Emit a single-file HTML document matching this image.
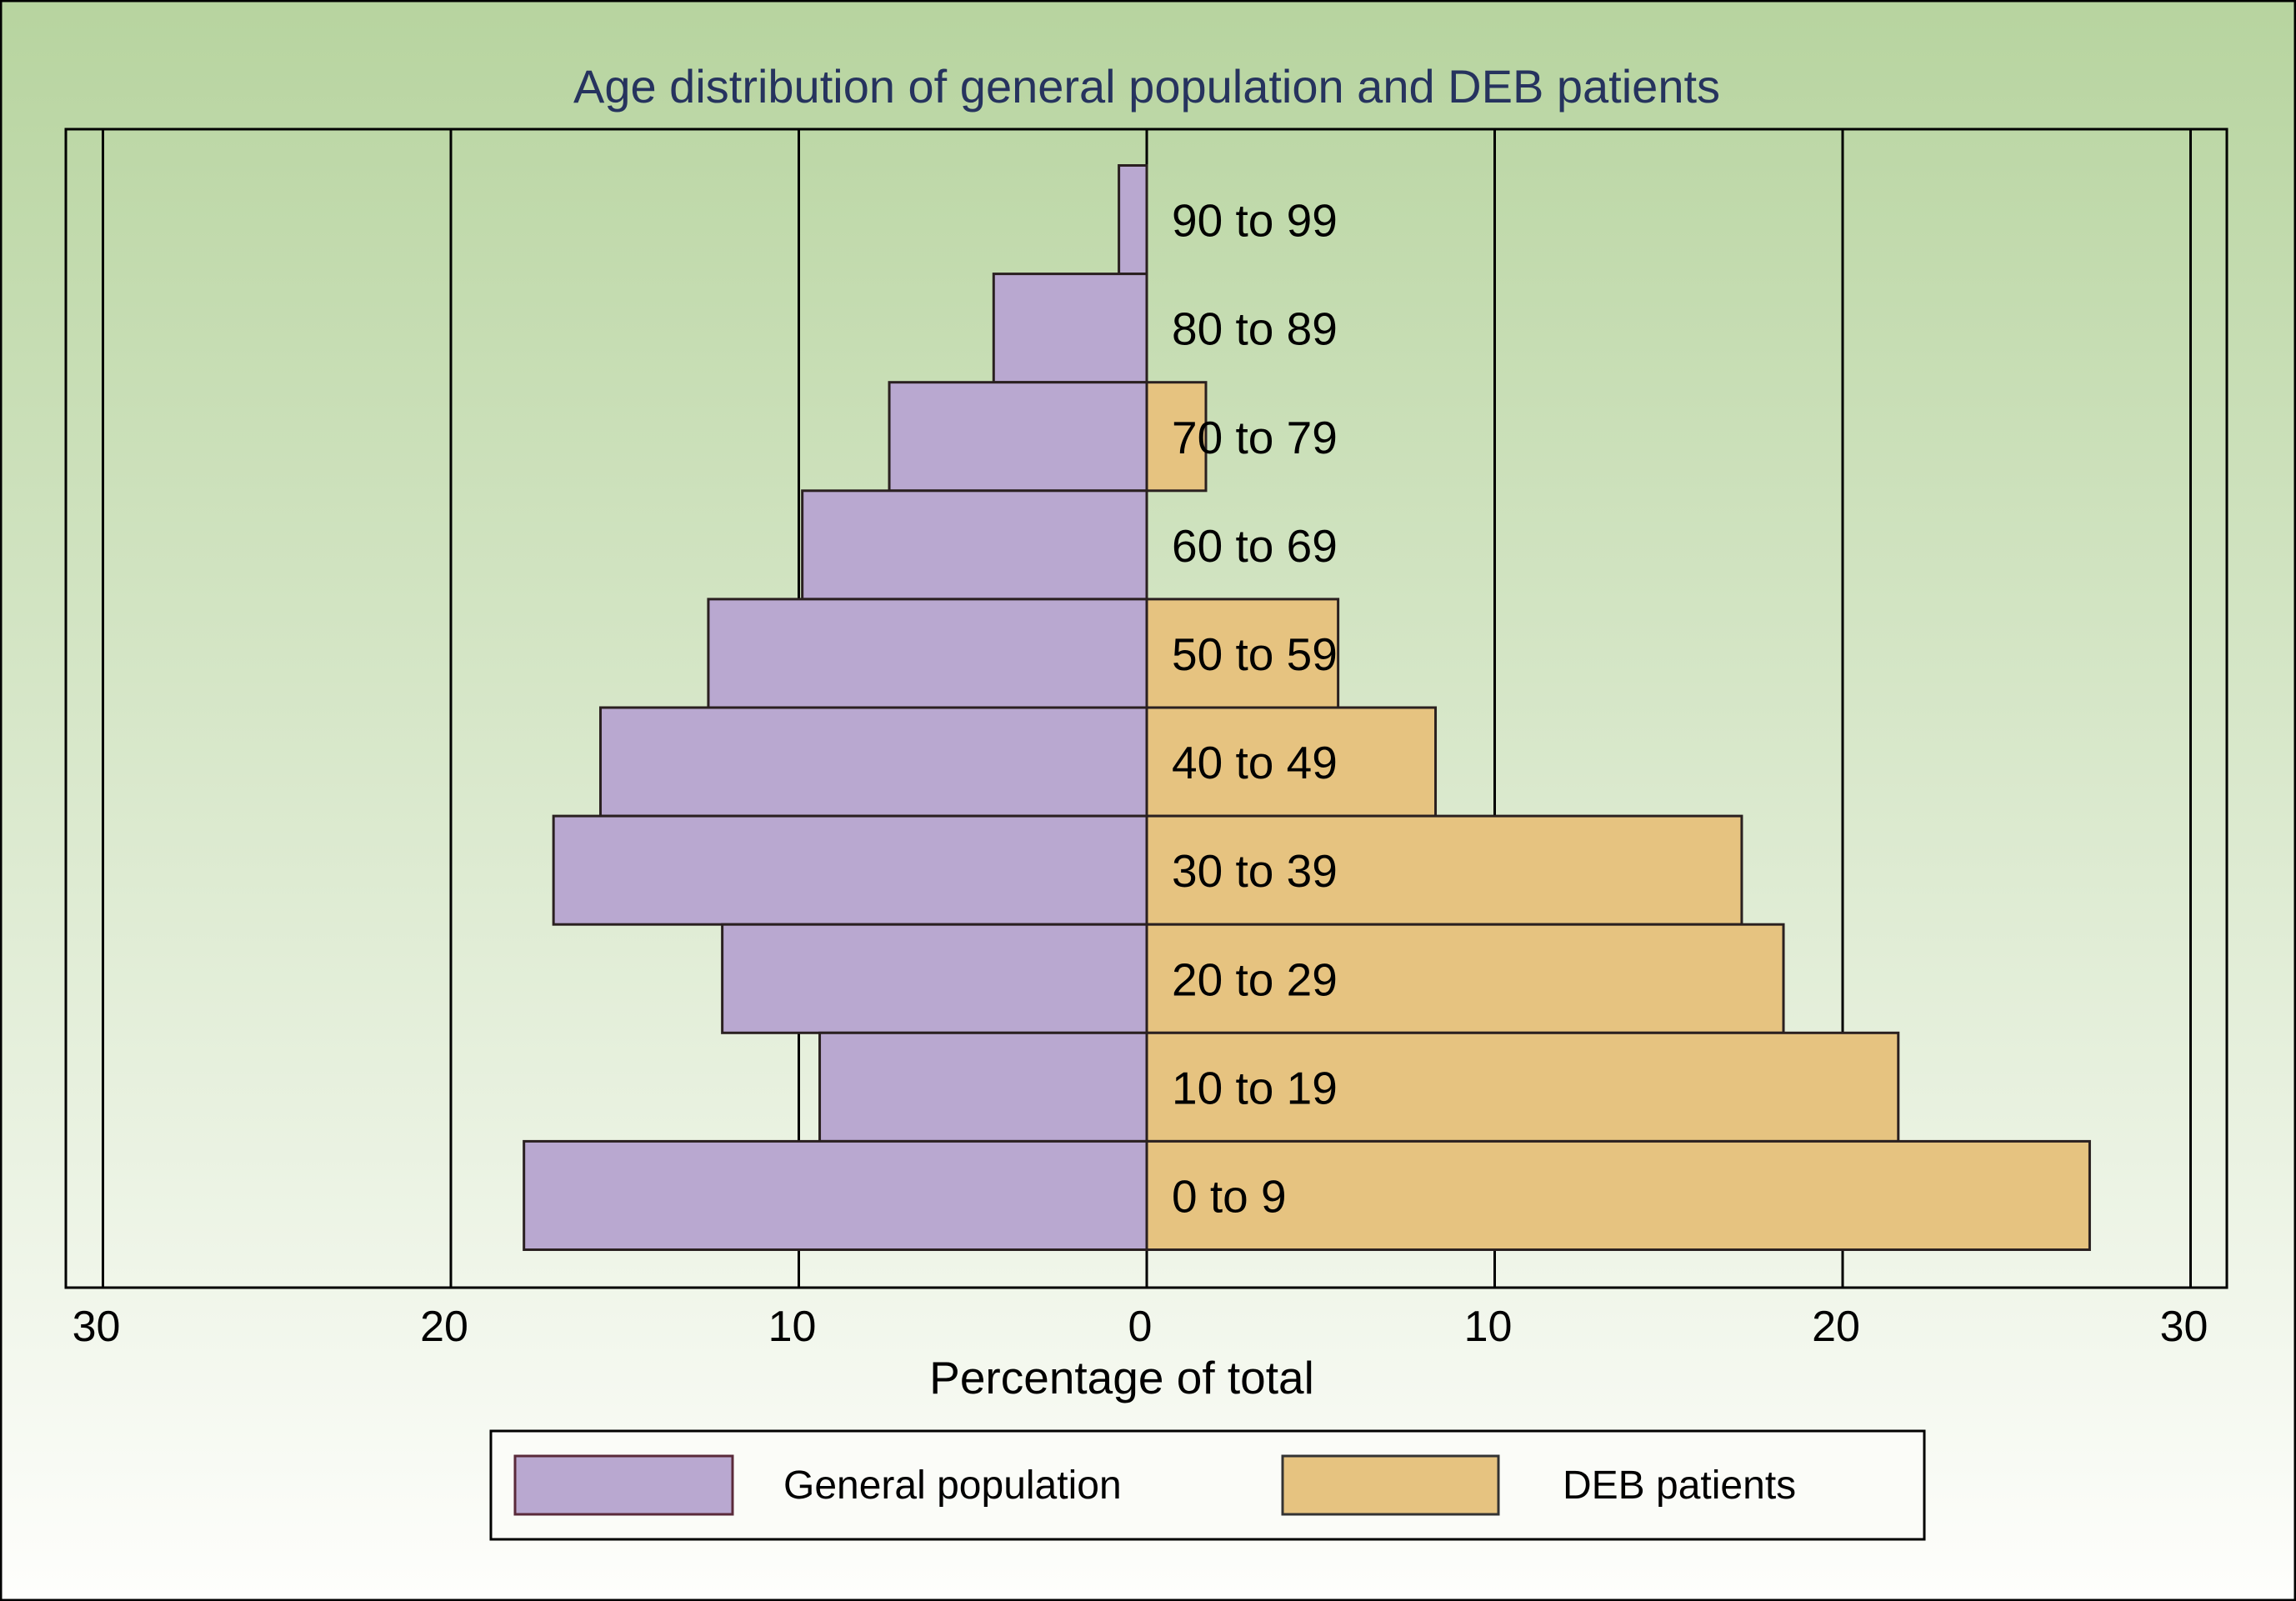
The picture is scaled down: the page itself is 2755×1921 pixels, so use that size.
<!DOCTYPE html>
<html><head><meta charset="utf-8"><style>
html,body{margin:0;padding:0;}
svg{display:block;font-family:"Liberation Sans",sans-serif;}
</style></head><body>
<svg id="chart" width="2755" height="1921" viewBox="0 0 2755 1921" xmlns="http://www.w3.org/2000/svg">
<defs><linearGradient id="bg" x1="0" y1="0" x2="0" y2="1">
<stop offset="0" stop-color="#b7d49f"/><stop offset="1" stop-color="#fefefc"/></linearGradient></defs>
<rect x="1" y="1" width="2753" height="1919" fill="url(#bg)" stroke="#000" stroke-width="3"/>
<text x="1376" y="123" text-anchor="middle" font-size="56" fill="#26335e">Age distribution of general population and DEB patients</text>
<g id="grid"></g><g id="bars"></g><g id="labels"></g>
<rect x="79" y="155" width="2593" height="1390" fill="none" stroke="#000" stroke-width="3"/>
<g id="ticks"></g>
<text x="1346" y="1672" text-anchor="middle" font-size="55" fill="#000">Percentage of total</text>
<g>
<rect x="589" y="1717" width="1720" height="130" fill="#fbfcf8" stroke="#000" stroke-width="3"/>
<rect x="618" y="1747" width="261" height="70" fill="#b9a8d0" stroke="#5a2a3a" stroke-width="3"/>
<text x="940" y="1798" font-size="48">General population</text>
<rect x="1539" y="1747" width="259" height="70" fill="#e6c380" stroke="#333" stroke-width="3"/>
<text x="1875" y="1798" font-size="48">DEB patients</text>
</g>
</svg>
<script>
const categories = ["90 to 99","80 to 89","70 to 79","60 to 69","50 to 59","40 to 49","30 to 39","20 to 29","10 to 19","0 to 9"];
const generalPop = [0.8,4.4,7.4,9.9,12.6,15.7,17.05,12.2,9.4,17.9];
const debPatients = [0,0,1.7,0,5.5,8.3,17.1,18.3,21.6,27.1];
const tickValues = [-30,-20,-10,0,10,20,30];
const tickLabels = ["30","20","10","0","10","20","30"];
const NS="http://www.w3.org/2000/svg";
const x0=1376, unit=41.75, bandTop=198.5, bandH=130.1;
const xs=v=>x0+v*unit;
const yb=i=>bandTop+i*bandH;
function mk(tag,attrs,parent){const e=document.createElementNS(NS,tag);for(const k in attrs)e.setAttribute(k,attrs[k]);document.getElementById(parent).appendChild(e);return e;}
tickValues.forEach((t,i)=>{
  const l=mk('line',{x1:xs(t),x2:xs(t),y1:155,y2:1545,stroke:'#000','stroke-width':3},'grid');
  
  
  const tx=mk('text',{x:xs(t)-8,y:1609,'text-anchor':'middle','font-size':52},'ticks');
  tx.textContent=tickLabels[i];
  
  
});
categories.forEach((c,i)=>{
  const g=generalPop[i];
  if(g>0){const r=mk('rect',{x:xs(-g),y:yb(i),width:xs(0)-xs(-g),height:bandH,fill:'#b9a8d0',stroke:'#2a2020','stroke-width':3},'bars');
  
  }
  const d=debPatients[i];
  if(d>0){const r=mk('rect',{x:xs(0),y:yb(i),width:xs(d)-xs(0),height:bandH,fill:'#e6c380',stroke:'#2a2020','stroke-width':3},'bars');
  
  }
  const t=mk('text',{x:1406,y:yb(i)+bandH/2+20,'font-size':55},'labels');
  t.textContent=c;
  
  
});
</script>
</body></html>
